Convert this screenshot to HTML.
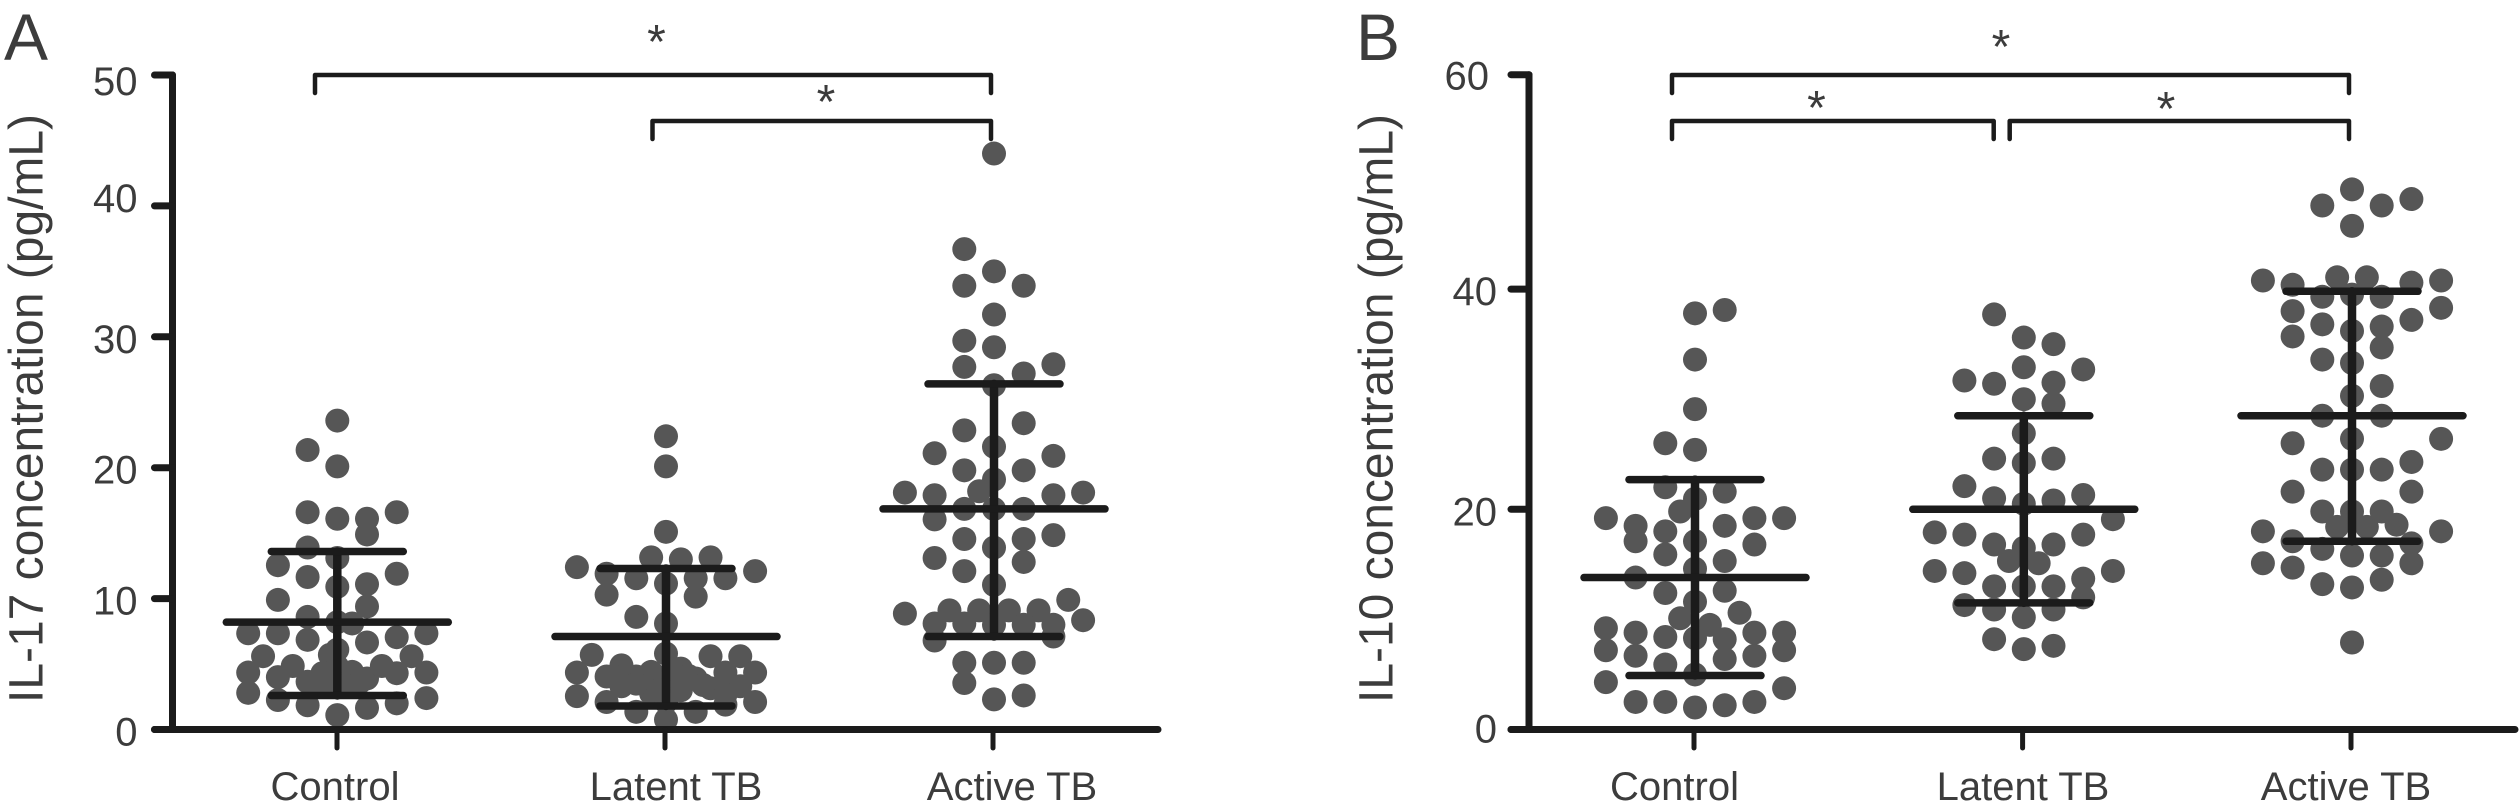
<!DOCTYPE html>
<html lang="en">
<head>
<meta charset="utf-8">
<title>IL-17 and IL-10 concentration by group</title>
<style>
html,body{margin:0;padding:0;background:#fff;}
svg{display:block;}
text{font-family:"Liberation Sans",sans-serif;fill:#3c3c3c;}
</style>
</head>
<body>
<svg id="figure" xmlns="http://www.w3.org/2000/svg" width="2520" height="810" viewBox="0 0 2520 810">
  <rect width="2520" height="810" fill="#fff"/>
  <text x="4" y="60" font-size="66">A</text>
  <text x="1356" y="60" font-size="66">B</text>
  <text transform="translate(42.7 703) rotate(-90)" font-size="48" textLength="589" lengthAdjust="spacingAndGlyphs">IL-17 concentration (pg/mL)</text>
  <text transform="translate(1392.6 703) rotate(-90)" font-size="48" textLength="589" lengthAdjust="spacingAndGlyphs">IL-10 concentration (pg/mL)</text>
  <g id="panel-a"></g>
  <g id="panel-b"></g>
</svg>
<script>
const categories = ['Control', 'Latent TB', 'Active TB'];

// Panel A: IL-17 (pg/mL)
const il17Ticks = [0, 10, 20, 30, 40, 50];
const il17TickLabels = ['0', '10', '20', '30', '40', '50'];
const il17ControlValues = [23.6, 21.35, 20.1, 16.6, 16.1, 16.1, 16.6, 14.9, 13.9, 13.1, 12.55, 11.65, 11.1, 11.9, 10.9, 9.9, 9.4, 8.6, 8.2, 8.1, 7.35, 7.35, 6.85, 6.65, 7.05, 7.35, 5.6, 5.6, 5.7, 6.1, 4.35, 4.35, 4, 4.85, 3.65, 4.3, 4.8, 4.4, 3.9, 4.85, 4.3, 2.8, 2.25, 1.85, 3.6, 3.3, 3.3, 1.65, 2, 2.4, 1.1, 3.6, 3.6, 4.2];
const il17ControlSlots = [0, -1, 0, -1, 0, 1, 2, 1, -1, 0, -2, -1, 1, 2, 0, -2, 1, -1, 0, 0.5, -3, -2, -1, 1, 2, 3, -2.5, 2.5, -0.25, 0, -3, 3, -2, -1.5, -1, -0.5, 0, 0.5, 1, 1.5, 2, -3, -2, -1, 0, -0.5, 0.5, 1, 2, 3, 0, -0.75, 0.75, -0.25];
const il17LatentValues = [22.4, 20.1, 15.1, 12.4, 11.9, 10.3, 11.55, 13.15, 13, 13.15, 11.15, 11.55, 10.15, 11.55, 12.1, 8.6, 8.1, 5.8, 5.7, 5.6, 5.6, 4.35, 2.55, 4.35, 2.1, 4.9, 4.05, 4.05, 4.4, 4.65, 3.9, 4.35, 3.15, 3.3, 2.65, 3.3, 2.1, 2.75, 3.3, 3, 1.35, 1.35, 0.75, 2.1, 1.9, 4, 3.5, 4, 3, 4.6, 4.1, 3.4];
const il17LatentSlots = [0, 0, 0, -3, -2, -2, -1, -0.5, 0.5, 1.5, 0, 1, 1, 2, 3, -1, 0, 0, -2.5, 1.5, 2.5, -3, -3, 3, 3, -1.5, -2, -1, -0.5, 0.5, 1, 2, 1.5, 2.5, 2, -1.5, -2, -0.5, 0, 0.5, -1, 1, 0, 0, 2, -1.5, -1, -0.25, -0.25, 0.25, 0.75, 1.25];
const il17ActiveValues = [44, 36.7, 35, 33.9, 33.9, 31.7, 29.7, 29.2, 27.9, 27.7, 27.2, 26.3, 23.4, 22.85, 21.6, 21.1, 20.9, 19.8, 19.8, 19.1, 18.2, 18.1, 17.9, 17.9, 18.1, 16.85, 16.85, 16.85, 16.05, 14.55, 14.55, 14.85, 13.9, 12.8, 13.1, 12.1, 11.05, 9.9, 9.1, 9.1, 9.1, 9.1, 8.85, 8.35, 8.1, 8.1, 8, 8, 8, 6.8, 7.1, 5.1, 5.1, 5.1, 3.55, 2.3, 2.6];
const il17ActiveSlots = [0, -1, 0, -1, 1, 0, -1, 0, 2, -1, 1, 0, 1, -1, 0, -2, 2, -1, 1, 0, -0.5, -3, -2, 2, 3, -1, 0, 1, -2, -1, 1, 2, 0, 1, -2, -1, 0, 2.5, -1.5, -0.5, 0.5, 1.5, -3, 3, -2, -1, 0, 1, 2, -2, 2, -1, 0, 1, -1, 0, 1];
const il17Means = [8.2, 7.1, 16.85];
const il17SdHigh = [13.6, 12.3, 26.4];
const il17SdLow = [2.6, 1.8, 7.1];

// Panel B: IL-10 (pg/mL)
const il10Ticks = [0, 20, 40, 60];
const il10TickLabels = ['0', '20', '40', '60'];
const il10ControlValues = [37.8, 38.1, 33.6, 29.1, 26, 25.4, 22, 21.6, 20.95, 19.8, 19.2, 18.5, 18, 18.5, 19.2, 19.2, 17.1, 17.1, 15.9, 16.8, 15.3, 14.6, 13.8, 12.4, 12.6, 11.6, 10.6, 10.1, 9.5, 9.2, 8.8, 8.4, 8.3, 8.2, 8.8, 8.8, 7.2, 7.2, 6.7, 6.4, 6.7, 5.9, 5, 4.3, 3.75, 2.5, 2.5, 2, 2.2, 2.5];
const il10ControlSlots = [0, 1, 0, 0, -1, 0, -1, 1, 0, -0.5, -3, -2, -1, 1, 2, 3, -2, 0, -1, 2, 1, 0, -2, -1, 1, 0, 1.5, -0.5, 0.5, -3, -2, -1, 0, 1, 2, 3, -3, 3, -2, 1, 2, -1, 0, -3, 3, -2, -1, 0, 1, 2];
const il10LatentValues = [37.7, 35.6, 35, 32.9, 32.7, 31.7, 31.4, 31.5, 30, 29.6, 26.9, 24.6, 24.6, 24.2, 22.1, 21, 20.8, 21.3, 20.5, 19.1, 17.9, 17.7, 16.8, 16.5, 16.8, 17.7, 15.3, 15.1, 14.4, 14.2, 14.4, 13, 13, 13, 13.7, 12, 11.3, 10.9, 10.9, 10.2, 8.2, 7.3, 7.6];
const il10LatentSlots = [-1, 0, 1, 0, 2, -2, -1, 1, 0, 1, 0, -1, 1, 0, -2, -1, 1, 2, 0, 3, -3, -2, -1, 0, 1, 2, -0.5, 0.5, -3, -2, 3, -1, 0, 1, 2, 2, -2, -1, 1, 0, -1, 0, 1];
const il10ActiveValues = [49.3, 47.8, 47.8, 48.4, 45.9, 40.8, 40.4, 39.3, 41.1, 41.1, 40.6, 40.8, 39.5, 39.3, 38, 38.3, 36.8, 37.2, 36.2, 36.6, 35.7, 34.7, 33.6, 33.3, 31.2, 30.3, 28.5, 28.5, 26.4, 26, 26.4, 24.3, 23.6, 23.6, 23.6, 21.6, 21.6, 19.8, 19.8, 19.8, 18.4, 18.4, 18.6, 18, 18, 17.1, 16.9, 16.4, 15.8, 15.8, 15.1, 14.7, 15.1, 13.2, 12.9, 13.6, 7.9];
const il10ActiveSlots = [0, -1, 1, 2, 0, -3, -2, -1, -0.5, 0.5, 2, 3, 0, 1, -2, 3, -1, 2, 0, 1, -2, 1, -1, 0, 1, 0, -1, 1, 3, -2, 0, 2, -1, 0, 1, -2, 2, -1, 0, 1, -0.5, 0.5, 1.5, -3, 3, -2, 2, -1, 0, 1, -3, -2, 2, -1, 0, 1, 0];
const il10Means = [13.8, 20, 28.5];
const il10SdHigh = [22.7, 28.5, 39.8];
const il10SdLow = [4.9, 11.5, 17.1];

const SVG_NS = 'http://www.w3.org/2000/svg';
const AXIS_COLOR = '#1b1b1b';
const DOT_COLOR = '#565656';
const SLOT_WIDTH = 29.7;
const DOT_RADIUS = 12;
const MEAN_CAP = 111;
const SD_CAP = 66;
const BASE_Y = 729.5;

function yScaleA(v) {
  return BASE_Y - v * 13.09;
}
function yScaleB(v) {
  return v <= 40 ? BASE_Y - v * 11.01 : (BASE_Y - 440.4) - (v - 40) * 10.72;
}

function create(parent, tag, attrs) {
  const el = document.createElementNS(SVG_NS, tag);
  for (const key in attrs) el.setAttribute(key, attrs[key]);
  parent.appendChild(el);
  return el;
}
function line(parent, x1, y1, x2, y2, width, name) {
  const el = create(parent, 'line', {x1: x1, y1: y1, x2: x2, y2: y2, stroke: AXIS_COLOR, 'stroke-width': width, 'stroke-linecap': 'round'});
  
  
  return el;
}

function drawPanel(cfg) {
  const root = document.getElementById(cfg.id);
  const y = cfg.y;

  // Points
  cfg.groups.forEach(function (g, gi) {
    const group = create(root, 'g', {});
    
    
    g.values.forEach(function (v, i) {
      const dot = create(group, 'circle', {cx: cfg.centers[gi] + g.slots[i] * SLOT_WIDTH, cy: y(v), r: DOT_RADIUS, fill: DOT_COLOR});
      
      
    });
  });

  // Mean and SD bars
  cfg.groups.forEach(function (g, gi) {
    const c = cfg.centers[gi];
    const bars = create(root, 'g', {});
    
    
    line(bars, c, y(cfg.sdHigh[gi]), c, y(cfg.sdLow[gi]), 8.5, 'sd-stem');
    line(bars, c - MEAN_CAP, y(cfg.means[gi]), c + MEAN_CAP, y(cfg.means[gi]), 7.5, 'mean-line');
    line(bars, c - SD_CAP, y(cfg.sdHigh[gi]), c + SD_CAP, y(cfg.sdHigh[gi]), 7.5, 'sd-high-cap');
    line(bars, c - SD_CAP, y(cfg.sdLow[gi]), c + SD_CAP, y(cfg.sdLow[gi]), 7.5, 'sd-low-cap');
  });

  // Axes
  line(root, cfg.axisX, y(cfg.ticks[cfg.ticks.length - 1]), cfg.axisX, BASE_Y, 7, 'y-axis-line');
  line(root, cfg.axisX - 18, BASE_Y, cfg.axisEnd, BASE_Y, 7, 'x-axis-line');
  cfg.ticks.forEach(function (t, i) {
    line(root, cfg.axisX - 18, y(t), cfg.axisX, y(t), 7, 'y-tick');
    const nudge = cfg.labelNudge(cfg.tickLabels[i]);
    const label = create(root, 'text', {x: cfg.axisX - 35 + nudge.dx, y: y(t) + nudge.dy, 'font-size': 40, 'text-anchor': 'end'});
    
    
    label.textContent = cfg.tickLabels[i];
  });
  categories.forEach(function (name, i) {
    line(root, cfg.tickXs[i], BASE_Y, cfg.tickXs[i], 748, 5, 'x-tick');
    const label = create(root, 'text', {x: cfg.labelXs[i], y: 800, 'font-size': 40, 'text-anchor': 'middle'});
    
    
    label.textContent = name;
  });

  // Significance brackets
  cfg.brackets.forEach(function (b) {
    const path = create(root, 'path', {d: 'M' + b.x1 + ' ' + (b.y + 18) + 'V' + b.y + 'H' + b.x2 + 'V' + (b.y + 18), fill: 'none', stroke: AXIS_COLOR, 'stroke-width': 4.5, 'stroke-linecap': 'round', 'stroke-linejoin': 'round'});
    
    
    const star = create(root, 'text', {x: b.sx, y: b.sy, 'font-size': 48, 'text-anchor': 'middle'});
    
    
    star.textContent = '*';
  });
}

drawPanel({
  id: 'panel-a', prefix: 'il17', y: yScaleA,
  axisX: 172.5, axisEnd: 1158,
  ticks: il17Ticks, tickLabels: il17TickLabels,
  labelNudge: function (t) {
    if (t === '50') return {dx: 0, dy: 20};
    if (t === '40') return {dx: 0, dy: 6};
    return {dx: 0, dy: 16};
  },
  centers: [337.3, 666, 994],
  tickXs: [337, 665, 993],
  labelXs: [335, 676, 1012],
  means: il17Means, sdHigh: il17SdHigh, sdLow: il17SdLow,
  groups: [
    {key: 'control', values: il17ControlValues, slots: il17ControlSlots},
    {key: 'latent-tb', values: il17LatentValues, slots: il17LatentSlots},
    {key: 'active-tb', values: il17ActiveValues, slots: il17ActiveSlots}
  ],
  brackets: [
    {x1: 315, x2: 991, y: 75, sx: 656.5, sy: 58},
    {x1: 652.5, x2: 991, y: 121, sx: 826, sy: 118}
  ]
});

drawPanel({
  id: 'panel-b', prefix: 'il10', y: yScaleB,
  axisX: 1529, axisEnd: 2515,
  ticks: il10Ticks, tickLabels: il10TickLabels,
  labelNudge: function (t) {
    if (t === '60') return {dx: -5, dy: 15};
    if (t === '0') return {dx: 3, dy: 13};
    return {dx: 3, dy: 16};
  },
  centers: [1695, 2023.8, 2352],
  tickXs: [1694, 2022.6, 2351],
  labelXs: [1674.5, 2023, 2346],
  means: il10Means, sdHigh: il10SdHigh, sdLow: il10SdLow,
  groups: [
    {key: 'control', values: il10ControlValues, slots: il10ControlSlots},
    {key: 'latent-tb', values: il10LatentValues, slots: il10LatentSlots},
    {key: 'active-tb', values: il10ActiveValues, slots: il10ActiveSlots}
  ],
  brackets: [
    {x1: 1672, x2: 2349, y: 75, sx: 2001, sy: 63},
    {x1: 1672, x2: 1993.7, y: 121, sx: 1816.5, sy: 124},
    {x1: 2009.7, x2: 2349, y: 121, sx: 2166, sy: 125}
  ]
});
</script>
</body>
</html>
